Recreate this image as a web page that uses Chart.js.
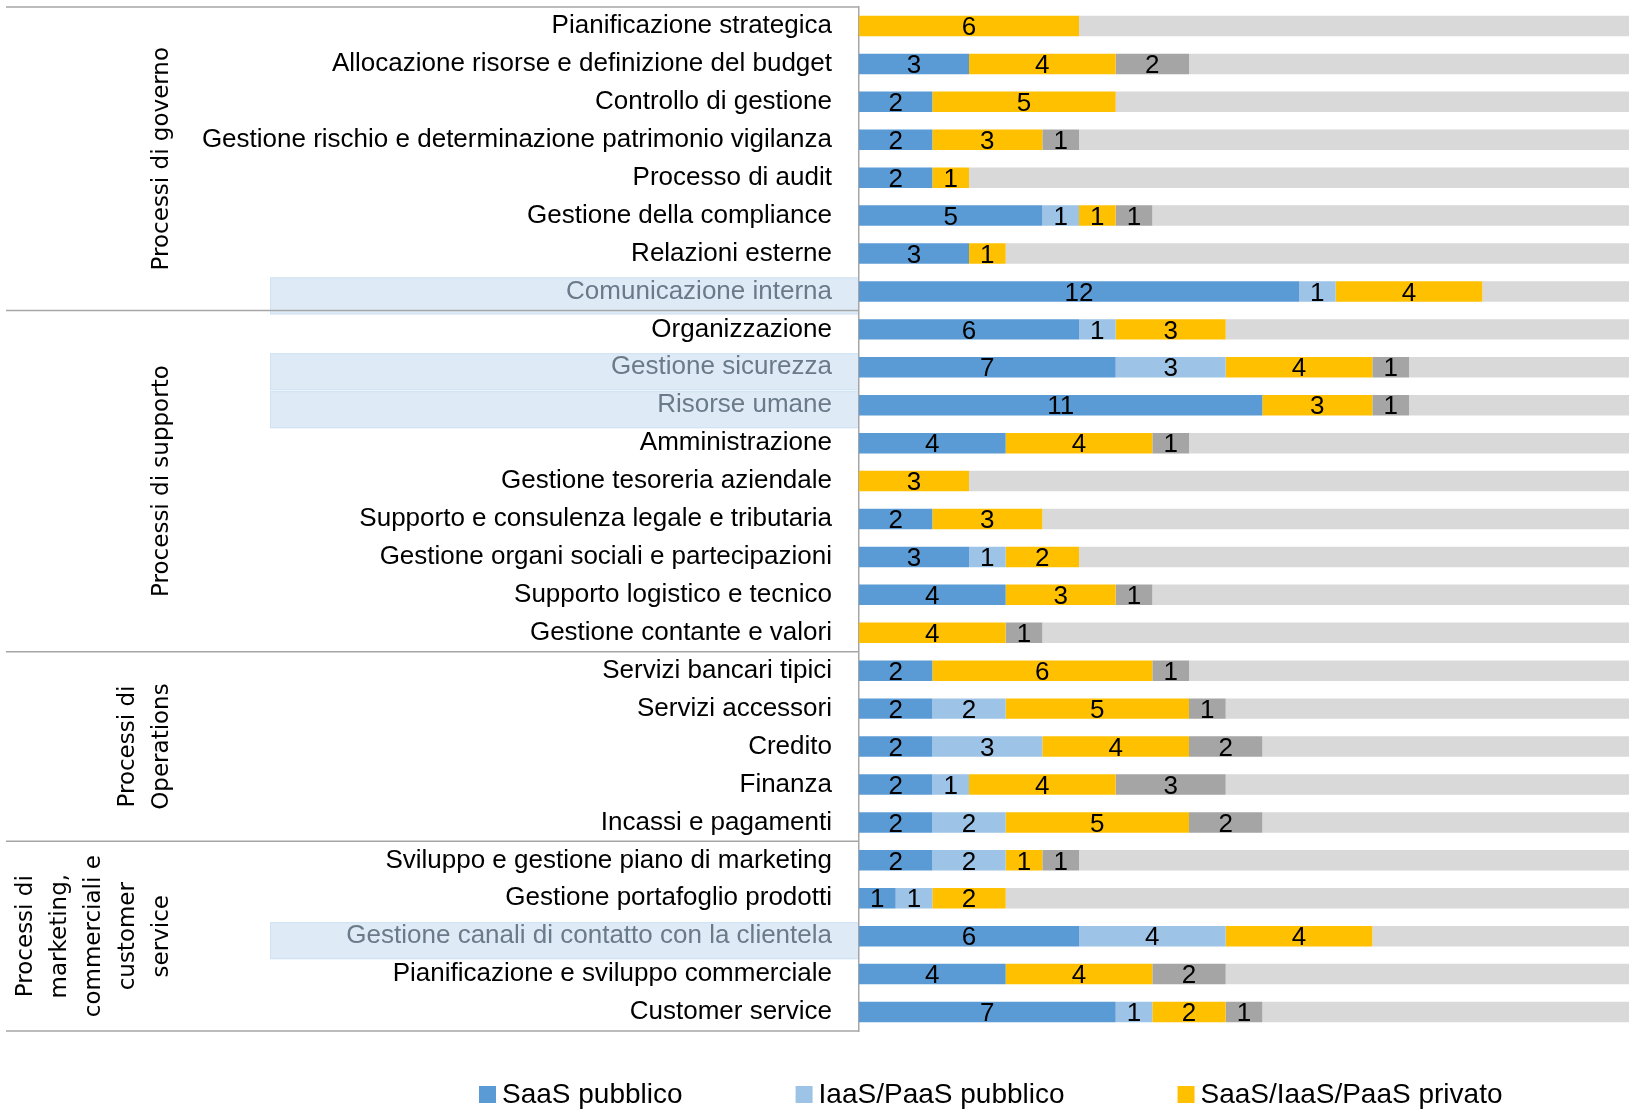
<!DOCTYPE html>
<html lang="it">
<head>
<meta charset="utf-8">
<title>Processi e modelli cloud</title>
<script src="https://cdn.jsdelivr.net/npm/chart.js@4.4.1/dist/chart.umd.min.js"></script>
<style>
  html, body { margin: 0; padding: 0; background: #ffffff; }
  #wrap { position: relative; width: 1633px; height: 1117px; }
</style>
</head>
<body>
<div id="wrap"><canvas id="chartCloud"></canvas></div>
<script>
// ── DATA ─────────────────────────────────────────────────────────
const categories = [
  "Pianificazione strategica",
  "Allocazione risorse e definizione del budget",
  "Controllo di gestione",
  "Gestione rischio e determinazione patrimonio vigilanza",
  "Processo di audit",
  "Gestione della compliance",
  "Relazioni esterne",
  "Comunicazione interna",
  "Organizzazione",
  "Gestione sicurezza",
  "Risorse umane",
  "Amministrazione",
  "Gestione tesoreria aziendale",
  "Supporto e consulenza legale e tributaria",
  "Gestione organi sociali e partecipazioni",
  "Supporto logistico e tecnico",
  "Gestione contante e valori",
  "Servizi bancari tipici",
  "Servizi accessori",
  "Credito",
  "Finanza",
  "Incassi e pagamenti",
  "Sviluppo e gestione piano di marketing",
  "Gestione portafoglio prodotti",
  "Gestione canali di contatto con la clientela",
  "Pianificazione e sviluppo commerciale",
  "Customer service",
];

const saasPubblico   = [0, 3, 2, 2, 2, 5, 3, 12, 6, 7, 11, 4, 0, 2, 3, 4, 0, 2, 2, 2, 2, 2, 2, 1, 6, 4, 7];
const iaasPubblico   = [0, 0, 0, 0, 0, 1, 0, 1, 1, 3, 0, 0, 0, 0, 1, 0, 0, 0, 2, 3, 1, 2, 2, 1, 4, 0, 1];
const privato        = [6, 4, 5, 3, 1, 1, 1, 4, 3, 4, 3, 4, 3, 3, 2, 3, 4, 6, 5, 4, 4, 5, 1, 2, 4, 4, 2];
const altro          = [0, 2, 0, 1, 0, 1, 0, 0, 0, 1, 1, 1, 0, 0, 0, 1, 1, 1, 1, 2, 3, 2, 1, 0, 0, 2, 1];
const residuo        = [15, 12, 14, 15, 18, 13, 17, 4, 11, 6, 6, 12, 18, 16, 15, 13, 16, 12, 11, 10, 11, 10, 15, 17, 7, 11, 10];

const xMax = 21;

// process groups (last category index of each, label lines)
const groupLabels = [
  ["Processi di governo"],
  ["Processi di supporto"],
  ["Processi di", "Operations"],
  ["Processi di", "marketing,", "commerciali e", "customer", "service"],
];
const groupLast = [7, 16, 21, 26];

// rows with a highlighted label
const highlighted = [7, 9, 10, 24];

// ── STYLE ────────────────────────────────────────────────────────
const labelFont  = "'Liberation Sans', Arial, sans-serif";
const groupFont  = "'DejaVu Sans', Verdana, sans-serif";
const lineColor  = "#a6a6a6";
const colors = {
  saas:    "#5b9bd5",
  iaas:    "#9dc3e6",
  priv:    "#ffc000",
  altro:   "#a5a5a5",
  residuo: "#d9d9d9",
};

// ── PLUGINS ──────────────────────────────────────────────────────
const rowDecor = {
  id: "rowDecor",
  beforeDraw(chart) {
    const { ctx, chartArea, scales: { y } } = chart;
    ctx.save();
    highlighted.forEach(i => {
      const c = y.getPixelForValue(i);
      ctx.fillStyle = "#deebf7";
      ctx.fillRect(270, c - 14, chartArea.left - 270, 37);
      ctx.strokeStyle = "#cfe1f2";
      ctx.lineWidth = 1;
      ctx.strokeRect(270.5, c - 13.5, chartArea.left - 271, 36);
    });
    ctx.restore();
  },
  afterDraw(chart) {
    const { ctx, chartArea, scales: { y } } = chart;
    ctx.save();
    // group separators
    ctx.strokeStyle = lineColor;
    ctx.lineWidth = 1.5;
    const edges = [chartArea.top];
    groupLast.forEach((last, g) => {
      if (g < groupLast.length - 1) {
        edges.push((y.getPixelForValue(last) + y.getPixelForValue(last + 1)) / 2);
      }
    });
    edges.push(chartArea.bottom);
    edges.forEach(yy => {
      ctx.beginPath();
      ctx.moveTo(6, yy);
      ctx.lineTo(chartArea.left, yy);
      ctx.stroke();
    });

    // rotated group labels
    ctx.fillStyle = "#000000";
    ctx.font = "23px " + groupFont;
    ctx.textAlign = "center";
    ctx.textBaseline = "middle";
    groupLabels.forEach((lines, g) => {
      const mid = (edges[g] + edges[g + 1]) / 2;
      lines.forEach((txt, k) => {
        const x = 162 - (lines.length - 1 - k) * 34;
        ctx.save();
        ctx.translate(x, mid);
        ctx.rotate(-Math.PI / 2);
        ctx.fillText(txt, 0, 0);
        ctx.restore();
      });
    });

    // legend (first three series only)
    ctx.font = "28px " + labelFont;
    ctx.textAlign = "left";
    let lx = 479;
    const ly = 1094;
    chart.data.datasets.slice(0, 3).forEach(ds => {
      ctx.fillStyle = ds.backgroundColor;
      ctx.fillRect(lx, ly - 8, 17, 17);
      ctx.fillStyle = "#000000";
      ctx.fillText(ds.label, lx + 23, ly + 1);
      lx += 23 + ctx.measureText(ds.label).width + 113;
    });
    ctx.restore();
  },
  afterDatasetsDraw(chart) {
    const { ctx } = chart;
    ctx.save();
    ctx.font = "26px " + labelFont;
    ctx.fillStyle = "#000000";
    ctx.textAlign = "center";
    ctx.textBaseline = "middle";
    chart.data.datasets.forEach((ds, di) => {
      if (!ds.showValues) return;
      chart.getDatasetMeta(di).data.forEach((bar, i) => {
        const v = ds.data[i];
        if (!v) return;
        const p = bar.getCenterPoint();
        ctx.fillText(String(v), p.x, p.y + 2);
      });
    });
    ctx.restore();
  },
};

// ── CHART ────────────────────────────────────────────────────────
(function () {
  const ctx = document.getElementById("chartCloud").getContext("2d");
  const mk = (label, data, color, showValues) => ({
    label, data, showValues,
    backgroundColor: color,
    borderWidth: 0,
    barPercentage: 0.54,
    categoryPercentage: 1.0,
  });

  new Chart(ctx, {
    type: "bar",
    data: {
      labels: categories,
      datasets: [
        mk("SaaS pubblico", saasPubblico, colors.saas, true),
        mk("IaaS/PaaS pubblico", iaasPubblico, colors.iaas, true),
        mk("SaaS/IaaS/PaaS privato", privato, colors.priv, true),
        mk("Altro", altro, colors.altro, true),
        mk("", residuo, colors.residuo, false),
      ],
    },
    options: {
      indexAxis: "y",
      responsive: true,
      maintainAspectRatio: false,
      animation: false,
      layout: { padding: { top: 7, right: 4, bottom: 86, left: 0 } },
      plugins: {
        legend: { display: false },
        tooltip: { enabled: false },
      },
      scales: {
        x: {
          stacked: true,
          min: 0,
          max: xMax,
          display: false,
        },
        y: {
          stacked: true,
          grid: { display: false, drawTicks: false },
          border: { display: true, color: lineColor, width: 1.5 },
          ticks: {
            padding: 27,
            autoSkip: false,
            font: { family: labelFont, size: 26 },
            color: c => highlighted.includes(c.index) ? "#6b7a89" : "#000000",
          },
          afterFit: scale => {
            scale.width = 859;
            scale.paddingTop = 0;
            scale.paddingBottom = 0;
          },
        },
      },
    },
    plugins: [rowDecor],
  });
})();
</script>
</body>
</html>
